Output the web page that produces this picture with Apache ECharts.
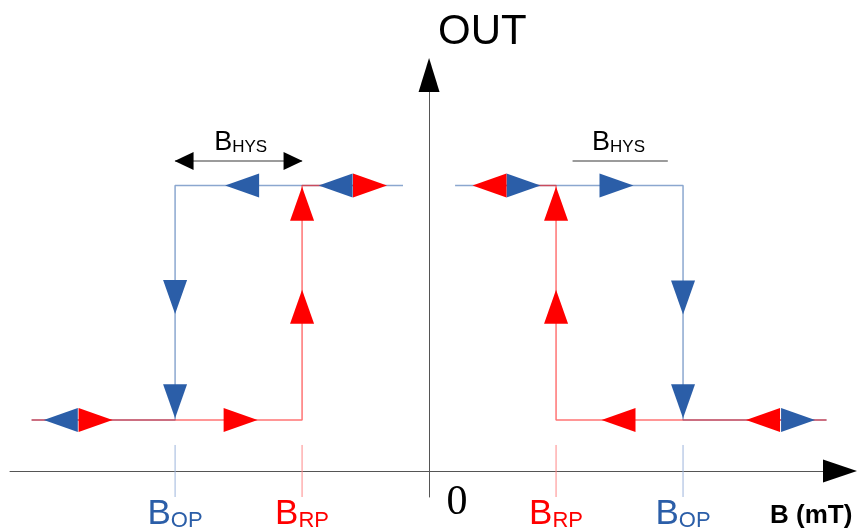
<!DOCTYPE html>
<html><head><meta charset="utf-8">
<script src="https://cdn.jsdelivr.net/npm/echarts@6/dist/echarts.min.js"></script>
<style>html,body{margin:0;padding:0;background:#fff}#c{width:862px;height:531px}</style>
</head><body><div id="c"></div>
<script>
// ---- data ----
const LOW = 1, HIGH = 5.6;
const xRange = [-33, 32.36];
const yRange = [-0.51, 7.765];
const thresholdValues = [-20, -10, 0, 10, 20];
const thresholdLines = [-20, -10, 10, 20];
const thresholdKinds = {'-20': 'OP', '-10': 'RP', '10': 'RP', '20': 'OP'};
const bluePathLeft = [[-31.3, LOW], [-20, LOW], [-20, HIGH], [-2.05, HIGH]];
const redPathLeft = [[-31.3, LOW], [-10, LOW], [-10, HIGH], [-5.9, HIGH]];
const bluePathRight = [[2.05, HIGH], [20, HIGH], [20, LOW], [31.3, LOW]];
const redPathRight = [[5.9, HIGH], [10, HIGH], [10, LOW], [31.3, LOW]];
const blueArrows = [
  [-29.0, LOW, 'L'], [-20, 3.41, 'D'], [-20, 1.37, 'D'], [-14.72, HIGH, 'L'], [-7.36, HIGH, 'L'],
  [7.44, HIGH, 'R'], [14.76, HIGH, 'R'], [20, 3.40, 'D'], [20, 1.37, 'D'], [29.06, LOW, 'R']
];
const redArrows = [
  [-26.26, LOW, 'R'], [-14.84, LOW, 'R'], [-10, 3.22, 'U'], [-10, 5.24, 'U'], [-4.65, HIGH, 'R'],
  [4.76, HIGH, 'L'], [10, 5.24, 'U'], [10, 3.22, 'U'], [14.92, LOW, 'L'], [26.3, LOW, 'L']
];
const hysY = 6.08;
const hysArrowLeft = [[-20, hysY], [-10, hysY]];
const hysLineRight = [[11.3, hysY], [18.8, hysY]];
const hysLabels = [[-14.84, 6.45], [14.92, 6.45]];
const xAxisName = 'B (mT)';
const yAxisName = 'OUT';

// ---- styles ----
const BLUE = '#2b5ea8', RED = '#ff0000';
const rot = {U: 0, L: 90, D: 180, R: -90};
const FONT = '"Liberation Sans", Arial, sans-serif';

function arrowData(arr) {
  return arr.map(a => ({value: [a[0], a[1]], symbolRotate: rot[a[2]]}));
}

const series = [];
function path(data, color) {
  series.push({type: 'line', data: data, symbol: 'none', silent: true, animation: false,
    lineStyle: {color: color, width: 1.5, opacity: 0.55}, z: 2});
}
path(bluePathLeft, BLUE); path(bluePathRight, BLUE);
path(redPathLeft, RED); path(redPathRight, RED);

// threshold marker lines crossing the axis
thresholdLines.forEach(v => {
  const kind = thresholdKinds[String(v)];
  series.push({type: 'line', data: [[v, yRange[0]], [v, 0.51]], symbol: 'none', silent: true, animation: false,
    lineStyle: {color: kind === 'OP' ? '#9db5dc' : '#ff8888', width: 1}, z: 1});
});

// hysteresis annotations
series.push({type: 'line', data: hysArrowLeft, symbol: 'none', animation: false,
  lineStyle: {color: '#7a7a7a', width: 1.5}, z: 2});
series.push({type: 'scatter', clip: false, animation: false, symbol: 'triangle', symbolSize: [18, 19],
  itemStyle: {color: '#000', opacity: 1}, z: 3,
  data: [{value: hysArrowLeft[0], symbolRotate: 90, symbolOffset: [9, 0]},
         {value: hysArrowLeft[1], symbolRotate: -90, symbolOffset: [-9, 0]}]});
series.push({type: 'line', data: hysLineRight, symbol: 'none', animation: false,
  lineStyle: {color: '#7a7a7a', width: 1.5}, z: 2});
series.push({type: 'scatter', clip: false, animation: false, symbolSize: 0, z: 4,
  itemStyle: {opacity: 1},
  data: hysLabels,
  label: {show: true, position: 'inside', formatter: '{b|B}{s|HYS}',
    rich: {b: {fontFamily: FONT, fontSize: 27, lineHeight: 28, color: '#000'},
           s: {fontFamily: FONT, fontSize: 17, lineHeight: 19, verticalAlign: 'bottom', color: '#000'}}}});

// flow arrows
series.push({type: 'scatter', clip: false, animation: false, symbol: 'triangle', symbolSize: [24, 34],
  itemStyle: {color: BLUE, opacity: 1}, z: 5, data: arrowData(blueArrows)});
series.push({type: 'scatter', clip: false, animation: false, symbol: 'triangle', symbolSize: [24, 34],
  itemStyle: {color: RED, opacity: 1}, z: 6, data: arrowData(redArrows)});

// axis arrow heads
series.push({type: 'scatter', clip: false, animation: false, symbol: 'triangle',
  itemStyle: {color: '#000', opacity: 1}, z: 7,
  data: [{value: [xRange[1], 0], symbolRotate: -90, symbolSize: [23, 34]},
         {value: [0, yRange[1]], symbolRotate: 0, symbolSize: [21, 34]}]});

const chart = echarts.init(document.getElementById('c'), null, {renderer: 'canvas'});
chart.setOption({
  animation: false,
  backgroundColor: '#fff',
  grid: {left: 10, right: 22, top: 75, bottom: 34, containLabel: false, outerBoundsMode: 'none'},
  xAxis: {
    type: 'value', min: xRange[0], max: xRange[1],
    axisLine: {show: true, onZero: true, lineStyle: {color: '#555', width: 1}},
    axisTick: {show: false}, splitLine: {show: false},
    axisLabel: {
      show: true, customValues: thresholdValues, margin: -1,
      formatter: function (v) {
        if (v === 0) return '{z|0}';
        const k = thresholdKinds[String(v)];
        return k === 'OP' ? '{bb|B}{bs|OP}' : '{rb|B}{rs|RP}';
      },
      rich: {
        z: {fontFamily: '"Liberation Serif", serif', fontSize: 42, lineHeight: 13, color: '#000', padding: [0, 0, 0, 56]},
        bb: {fontFamily: FONT, fontSize: 35, lineHeight: 36, color: BLUE},
        bs: {fontFamily: FONT, fontSize: 22, lineHeight: 20, verticalAlign: 'bottom', color: BLUE},
        rb: {fontFamily: FONT, fontSize: 35, lineHeight: 36, color: RED},
        rs: {fontFamily: FONT, fontSize: 22, lineHeight: 20, verticalAlign: 'bottom', color: RED}
      }
    },
    name: xAxisName, nameLocation: 'end', nameGap: -70, nameMoveOverlap: false,
    nameTextStyle: {fontFamily: FONT, fontSize: 26, fontWeight: 'bold', color: '#000',
      align: 'left', verticalAlign: 'top', lineHeight: 26, padding: [32, 0, 0, 0]}
  },
  yAxis: {
    type: 'value', min: yRange[0], max: yRange[1],
    axisLine: {show: true, onZero: true, lineStyle: {color: '#555', width: 1}},
    axisTick: {show: false}, splitLine: {show: false}, axisLabel: {show: false},
    name: yAxisName, nameLocation: 'end', nameGap: 22, nameMoveOverlap: false,
    nameTextStyle: {fontFamily: FONT, fontSize: 42, color: '#000', align: 'left', verticalAlign: 'bottom',
      lineHeight: 42, padding: [0, 0, 0, 9]}
  },
  series: series
});
</script>
</body></html>
